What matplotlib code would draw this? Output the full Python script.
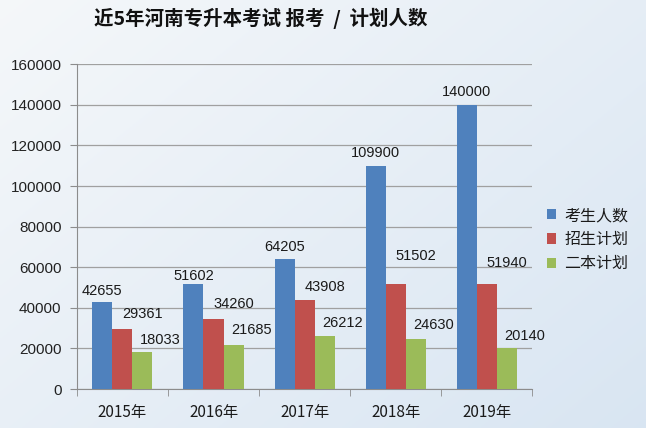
import matplotlib.pyplot as plt
import numpy as np

plt.rcParams['font.family'] = ['Noto Sans CJK SC', 'DejaVu Sans']

years = ['2015年', '2016年', '2017年', '2018年', '2019年']
applicants = [42655, 51602, 64205, 109900, 140000]  # 考生人数
enroll_plan = [29361, 34260, 43908, 51502, 51940]  # 招生计划
second_plan = [18033, 21685, 26212, 24630, 20140]  # 二本计划
series_names = ['考生人数', '招生计划', '二本计划']

colors = ['#4f81bd', '#c0504d', '#9bbb59']
num_font = 'Liberation Sans'

fig = plt.figure(figsize=(6.46, 4.28), dpi=100)

# soft light-blue background gradient
bgax = fig.add_axes([0, 0, 1, 1], zorder=-10)
gx, gy = np.meshgrid(np.linspace(0, 1, 200), np.linspace(0, 1, 200))
g = np.clip(0.55 * gx + 0.45 * gy, 0, 1)
c0 = np.array([0.96, 0.97, 0.98])
c1 = np.array([0.85, 0.90, 0.95])
img = c0[None, None, :] * (1 - g[..., None]) + c1[None, None, :] * g[..., None]
bgax.imshow(img, aspect='auto', extent=[0, 1, 0, 1], origin='upper')
bgax.axis('off')

ax = fig.add_axes([0.119, 0.091, 0.705, 0.759])
ax.set_facecolor('none')

x = np.arange(len(years))
w = 0.22
offsets = [-w, 0, w]
# label offsets in pixels (dx from bar centre, gap above bar top)
label_dx = [0, 20, 18]
label_gap = [[7, 4, 8, 9, 9], [11, 11, 9, 24, 17], [8, 11, 9, 10, 8]]

for k, vals in enumerate([applicants, enroll_plan, second_plan]):
    bars = ax.bar(x + offsets[k], vals, w, color=colors[k], label=series_names[k], zorder=3)
    for i, (b, v) in enumerate(zip(bars, vals)):
        ax.annotate(str(v), (b.get_x() + b.get_width() / 2, v),
                    xytext=(label_dx[k] * 0.72, label_gap[k][i] * 0.72), textcoords='offset points',
                    ha='center', va='baseline', fontsize=10.5, color='#1a1a1a',
                    family=num_font, zorder=4)

ax.set_ylim(0, 160000)
ax.set_xlim(-0.5, len(years) - 0.5)
ax.set_yticks(np.arange(0, 160001, 20000))
ax.set_yticklabels([str(t) for t in range(0, 160001, 20000)], family=num_font,
                   fontsize=11, color='#222222')
ax.yaxis.grid(True, color='#a0a0a0', linewidth=0.9, zorder=0)

ax.set_xticks(x)
ax.set_xticklabels(years, fontsize=11, color='#1a1a1a')
ax.tick_params(axis='x', length=0, pad=11)
ax.set_xticks(np.arange(-0.5, len(years), 1), minor=True)
ax.tick_params(axis='x', which='minor', length=5, color='#8c8c8c', direction='out')
ax.tick_params(axis='y', length=5, color='#8c8c8c', direction='out', pad=6)

for s in ['top', 'right']:
    ax.spines[s].set_visible(False)
ax.spines['left'].set_color('#8c8c8c')
ax.spines['bottom'].set_color('#8c8c8c')

fig.text(0.403, 0.958, '近5年河南专升本考试 报考  /  计划人数', ha='center', va='center',
         fontsize=14, fontweight='bold', color='#111111')

leg = ax.legend(loc='center left', bbox_to_anchor=(1.0, 0.46), frameon=False,
                fontsize=11.5, handlelength=0.6, handleheight=0.6, handletextpad=0.5,
                labelspacing=0.45)
for t in leg.get_texts():
    t.set_color('#1a1a1a')

fig.savefig('out.png', dpi=100)
